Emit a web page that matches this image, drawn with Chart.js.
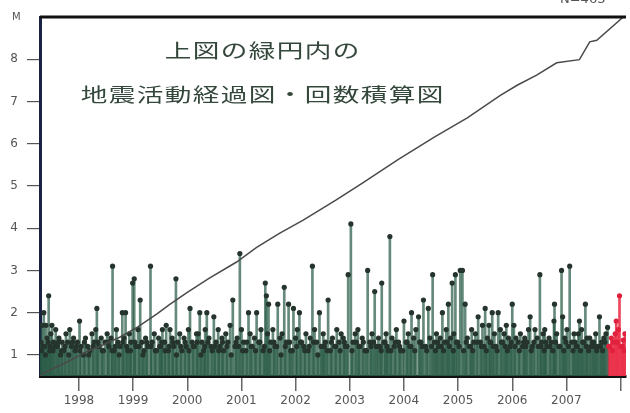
<!DOCTYPE html>
<html>
<head>
<meta charset="utf-8">
<script src="https://cdn.jsdelivr.net/npm/chart.js@4"></script>
<style>
  body { margin: 0; background: #fff; }
  #wrap { position: relative; width: 630px; height: 413px; overflow: hidden; }
  .ttl { position: absolute; left: 0; width: 525px; text-align: center;
         font-family: "Noto Sans CJK JP", sans-serif; font-size: 19px; letter-spacing: 1px;
         color: #34473b; transform: scaleX(1.4); transform-origin: 262px 0; white-space: nowrap; }
  .lbl { position: absolute; font-family: "DejaVu Sans", sans-serif; color: #555; }
</style>
</head>
<body>
<div id="wrap">
  <canvas id="myChart" width="630" height="413"></canvas>
  <div class="ttl" style="top:36px">上図の緑円内の</div>
  <div class="ttl" style="top:80px">地震活動経過図・回数積算図</div>
  <div class="lbl" style="left:12px; top:11px; font-size:10px;">M</div>
  <div class="lbl" style="left:560px; top:-9px; font-size:13px;">N=463</div>
</div>
<script>
// each event: [decimal year, magnitude]
const events1997 = [[1997.80,1.3],[1997.82,1.7],[1997.85,2.0],[1997.87,1.2],[1997.89,1.7],[1997.91,1.4],[1997.94,2.4],[1997.96,1.1],[1997.98,1.5]];
const events1998 = [[1998.00,1.7],[1998.03,1.3],[1998.07,1.6],[1998.10,1.2],[1998.13,1.4],[1998.16,1.0],[1998.19,1.3],[1998.22,1.1],[1998.26,1.5],[1998.29,1.3],[1998.33,1.6],[1998.36,1.2],[1998.40,1.4],[1998.43,1.1],[1998.47,1.3],[1998.51,1.8],[1998.54,1.2],[1998.58,1.0],[1998.62,1.4],[1998.66,1.2],[1998.70,1.1],[1998.74,1.5],[1998.78,1.3],[1998.81,1.6],[1998.83,2.1],[1998.87,1.2],[1998.91,1.4],[1998.95,1.1],[1998.98,1.3]];
const events1999 = [[1999.02,1.5],[1999.05,1.2],[1999.09,1.4],[1999.12,3.1],[1999.15,1.1],[1999.19,1.6],[1999.22,1.3],[1999.26,1.2],[1999.30,2.0],[1999.33,1.4],[1999.36,2.0],[1999.40,1.1],[1999.43,1.5],[1999.46,1.3],[1999.49,2.7],[1999.52,2.8],[1999.55,1.2],[1999.59,1.6],[1999.63,2.3],[1999.66,1.3],[1999.70,1.1],[1999.73,1.4],[1999.77,1.2],[1999.82,3.1],[1999.85,1.3],[1999.89,1.5],[1999.93,1.1],[1999.97,1.4]];
const events2000 = [[2000.01,1.2],[2000.04,1.6],[2000.08,1.3],[2000.11,1.7],[2000.15,1.1],[2000.18,1.6],[2000.22,1.4],[2000.25,1.2],[2000.29,2.8],[2000.32,1.3],[2000.36,1.5],[2000.40,1.1],[2000.44,1.4],[2000.48,1.2],[2000.52,1.6],[2000.55,2.1],[2000.59,1.3],[2000.63,1.2],[2000.67,1.5],[2000.70,1.5],[2000.73,2.0],[2000.77,1.3],[2000.80,1.1],[2000.83,1.6],[2000.86,2.0],[2000.90,1.4],[2000.94,1.2],[2000.99,1.9]];
const events2001 = [[2001.03,1.3],[2001.07,1.6],[2001.10,1.2],[2001.14,1.4],[2001.17,1.1],[2001.21,1.5],[2001.25,1.3],[2001.29,1.7],[2001.34,2.3],[2001.38,1.2],[2001.42,1.4],[2001.47,3.4],[2001.50,1.6],[2001.54,1.3],[2001.58,1.1],[2001.63,2.0],[2001.66,1.5],[2001.70,1.2],[2001.74,1.4],[2001.78,2.0],[2001.82,1.3],[2001.86,1.6],[2001.90,1.1],[2001.94,2.7],[2001.96,2.4],[2001.98,1.5]];
const events2002 = [[2002.00,2.2],[2002.04,1.3],[2002.08,1.6],[2002.12,1.2],[2002.17,2.2],[2002.21,1.4],[2002.25,1.5],[2002.29,2.6],[2002.33,1.3],[2002.37,2.2],[2002.41,1.1],[2002.46,2.1],[2002.50,1.4],[2002.53,1.6],[2002.57,2.0],[2002.61,1.3],[2002.65,1.2],[2002.69,1.5],[2002.73,1.1],[2002.77,1.4],[2002.81,3.1],[2002.85,1.6],[2002.89,1.3],[2002.94,2.0],[2002.97,1.2]];
const events2003 = [[2003.01,1.5],[2003.05,1.3],[2003.10,2.3],[2003.14,1.1],[2003.18,1.4],[2003.22,1.2],[2003.26,1.6],[2003.30,1.3],[2003.34,1.5],[2003.38,1.4],[2003.42,1.2],[2003.47,2.9],[2003.52,4.1],[2003.56,1.3],[2003.60,1.5],[2003.65,1.6],[2003.69,1.2],[2003.73,1.4],[2003.78,1.1],[2003.83,3.0],[2003.87,1.3],[2003.91,1.5],[2003.96,2.5],[2003.99,1.2]];
const events2004 = [[2004.03,1.4],[2004.06,1.2],[2004.09,2.7],[2004.13,1.3],[2004.17,1.5],[2004.21,1.1],[2004.24,3.8],[2004.28,1.4],[2004.32,1.2],[2004.36,1.6],[2004.40,1.3],[2004.44,1.1],[2004.50,1.8],[2004.54,1.3],[2004.58,1.5],[2004.61,1.2],[2004.64,2.0],[2004.68,1.4],[2004.72,1.6],[2004.77,1.9],[2004.81,1.3],[2004.86,2.3],[2004.90,1.2],[2004.95,2.1],[2004.98,1.4]];
const events2005 = [[2005.03,2.9],[2005.06,1.3],[2005.10,1.5],[2005.14,1.2],[2005.17,1.4],[2005.21,2.0],[2005.25,1.3],[2005.28,1.6],[2005.32,2.2],[2005.36,1.4],[2005.39,2.7],[2005.42,1.5],[2005.45,2.9],[2005.49,1.3],[2005.54,3.0],[2005.58,3.0],[2005.63,2.2],[2005.67,1.4],[2005.71,1.2],[2005.75,1.6],[2005.79,1.3],[2005.82,1.5],[2005.87,1.9],[2005.91,1.3],[2005.95,1.7],[2005.98,1.2]];
const events2006 = [[2006.00,2.1],[2006.04,1.4],[2006.07,1.7],[2006.10,1.3],[2006.13,2.0],[2006.17,1.5],[2006.20,1.2],[2006.24,2.0],[2006.28,1.6],[2006.32,1.3],[2006.35,1.5],[2006.39,1.7],[2006.43,1.4],[2006.46,1.2],[2006.50,2.2],[2006.53,1.7],[2006.57,1.4],[2006.61,1.3],[2006.65,1.5],[2006.69,1.2],[2006.73,1.4],[2006.77,1.3],[2006.80,1.6],[2006.83,1.9],[2006.87,1.2],[2006.92,1.6],[2006.96,1.4]];
const events2007 = [[2007.01,2.9],[2007.04,1.3],[2007.07,1.5],[2007.10,1.6],[2007.14,1.2],[2007.18,1.4],[2007.22,1.3],[2007.27,1.8],[2007.28,2.2],[2007.32,1.5],[2007.36,1.2],[2007.41,3.0],[2007.43,1.9],[2007.47,1.4],[2007.51,1.6],[2007.56,3.1],[2007.60,1.3],[2007.64,1.5],[2007.68,1.2],[2007.72,1.5],[2007.74,1.8],[2007.78,1.6],[2007.82,1.3],[2007.85,2.2],[2007.88,1.4],[2007.93,1.4],[2007.96,1.2]];
const events2008 = [[2008.00,1.3],[2008.04,1.5],[2008.08,1.2],[2008.11,1.9],[2008.15,1.3],[2008.19,1.4],[2008.23,1.5],[2008.26,1.65],[2008.30,1.2],[2008.33,1.4],[2008.37,1.3],[2008.40,1.5],[2008.42,1.8],[2008.46,1.6],[2008.48,2.4],[2008.51,1.2],[2008.55,1.35],[2008.58,1.5]];

// the many small events packed near the base
const minor1998 = [[1997.81,1.1],[1997.84,1.2],[1997.88,1.0],[1997.93,1.3],[1997.97,1.2],[1998.02,1.1],[1998.06,1.2],[1998.12,1.3],[1998.18,1.1],[1998.24,1.2],[1998.31,1.0],[1998.38,1.3],[1998.45,1.2],[1998.52,1.1],[1998.60,1.3],[1998.68,1.0],[1998.76,1.2],[1998.85,1.3],[1998.93,1.1]];
const minor2000 = [[1999.04,1.3],[1999.11,1.1],[1999.17,1.2],[1999.24,1.0],[1999.31,1.3],[1999.38,1.2],[1999.45,1.1],[1999.53,1.3],[1999.61,1.2],[1999.68,1.0],[1999.75,1.3],[1999.83,1.2],[1999.91,1.1],[1999.99,1.2],[2000.03,1.3],[2000.09,1.1],[2000.16,1.2],[2000.23,1.3],[2000.30,1.0],[2000.38,1.2],[2000.46,1.3],[2000.53,1.1],[2000.61,1.2],[2000.68,1.3],[2000.75,1.0],[2000.82,1.2],[2000.88,1.3],[2000.96,1.1]];
const minor2002 = [[2001.01,1.2],[2001.08,1.1],[2001.15,1.3],[2001.23,1.2],[2001.31,1.0],[2001.40,1.3],[2001.45,1.2],[2001.52,1.1],[2001.60,1.3],[2001.68,1.2],[2001.76,1.1],[2001.84,1.3],[2001.92,1.2],[2002.02,1.1],[2002.10,1.3],[2002.15,1.2],[2002.23,1.0],[2002.31,1.2],[2002.39,1.3],[2002.44,1.1],[2002.52,1.2],[2002.59,1.3],[2002.67,1.1],[2002.75,1.2],[2002.83,1.3],[2002.91,1.0],[2002.99,1.2]];
const minor2004 = [[2003.03,1.2],[2003.08,1.1],[2003.16,1.3],[2003.24,1.2],[2003.32,1.1],[2003.40,1.3],[2003.45,1.2],[2003.54,1.1],[2003.62,1.3],[2003.67,1.2],[2003.75,1.3],[2003.81,1.1],[2003.89,1.2],[2003.94,1.3],[2004.01,1.2],[2004.08,1.1],[2004.15,1.3],[2004.19,1.2],[2004.26,1.1],[2004.34,1.3],[2004.42,1.2],[2004.48,1.1],[2004.56,1.3],[2004.63,1.2],[2004.70,1.1],[2004.79,1.3],[2004.84,1.2],[2004.92,1.1]];
const minor2006 = [[2005.01,1.2],[2005.08,1.1],[2005.12,1.3],[2005.19,1.2],[2005.23,1.1],[2005.30,1.3],[2005.34,1.2],[2005.41,1.1],[2005.47,1.3],[2005.52,1.2],[2005.60,1.1],[2005.65,1.3],[2005.73,1.2],[2005.77,1.1],[2005.85,1.3],[2005.93,1.2],[2006.02,1.1],[2006.09,1.3],[2006.15,1.2],[2006.22,1.1],[2006.30,1.3],[2006.37,1.2],[2006.41,1.1],[2006.48,1.3],[2006.55,1.2],[2006.63,1.1],[2006.71,1.3],[2006.75,1.2],[2006.85,1.1],[2006.90,1.3],[2006.98,1.2]];
const minor2008 = [[2007.03,1.2],[2007.09,1.1],[2007.12,1.3],[2007.20,1.2],[2007.25,1.1],[2007.30,1.3],[2007.38,1.2],[2007.45,1.1],[2007.49,1.3],[2007.54,1.2],[2007.62,1.1],[2007.66,1.3],[2007.70,1.2],[2007.76,1.1],[2007.80,1.3],[2007.87,1.2],[2007.91,1.1],[2007.98,1.3],[2008.02,1.2],[2008.06,1.1],[2008.13,1.2],[2008.17,1.1],[2008.21,1.3],[2008.28,1.2],[2008.35,1.1],[2008.44,1.3],[2008.53,1.2],[2008.57,1.1]];

// cumulative number of events
const cumYears  = [1997.78,1997.83,1998.28,1998.66,1998.88,1999.25,1999.58,1999.94,2000.17,2000.50,2000.90,2001.41,2001.78,2002.20,2002.64,2003.25,2003.74,2004.39,2005.06,2005.67,2006.28,2006.59,2006.95,2007.32,2007.74,2007.93,2008.06,2008.55];
const cumCounts = [0,3,18,32,38,50,63,80,92,108,126,147,166,184,201,227,249,279,308,333,362,375,388,404,408,431,433,463];

const yearTicks = [1998,1999,2000,2001,2002,2003,2004,2005,2006,2007,2008];
const magTicks = [1,2,3,4,5,6,7,8];
const totalCount = 463;
const recentFrom = 2008.27;

const events = [].concat(minor1998, minor2000, minor2002, minor2004, minor2006, minor2008,
  events1997, events1998, events1999, events2000, events2001, events2002,
  events2003, events2004, events2005, events2006, events2007, events2008);
const BASE = 0.5;
const colorOf = t => t >= recentFrom ? 'rgba(235,50,75,0.9)' : 'rgba(42,92,70,0.72)';
const dotOf = t => t >= recentFrom ? '#e0203c' : '#25352d';

const frame = {
  id: 'frame',
  afterDraw(chart) {
    const { ctx, chartArea: a } = chart;
    ctx.save();
    ctx.strokeStyle = '#111';
    ctx.lineWidth = 3;
    ctx.beginPath();
    ctx.moveTo(a.left, a.top);
    ctx.lineTo(a.right, a.top);
    ctx.stroke();
    ctx.restore();
  }
};

const ctx = document.getElementById('myChart').getContext('2d');
const myChart = new Chart(ctx, {
  type: 'bar',
  data: {
    datasets: [{
      type: 'line',
      data: cumYears.map((t, i) => ({ x: t, y: cumCounts[i] })),
      yAxisID: 'yc',
      borderColor: '#4a4a4a',
      borderWidth: 1.5,
      pointRadius: 0,
      tension: 0,
      order: 0
    }, {
      type: 'scatter',
      data: events.map(e => ({ x: e[0], y: e[1] })),
      pointRadius: 2.6,
      pointBackgroundColor: events.map(e => dotOf(e[0])),
      pointBorderWidth: 0,
      order: 1
    }, {
      type: 'bar',
      data: events.map(e => ({ x: e[0], y: [BASE, e[1]] })),
      backgroundColor: events.map(e => colorOf(e[0])),
      barThickness: 2,
      grouped: false,
      order: 2
    }]
  },
  options: {
    responsive: false,
    animation: false,
    layout: { padding: { top: 17, right: 0, left: 0, bottom: 0 } },
    plugins: { legend: { display: false }, tooltip: { enabled: false } },
    scales: {
      x: {
        type: 'linear',
        min: 1997.78,
        max: 2008.6,
        offset: false,
        afterBuildTicks: s => { s.ticks = yearTicks.map(v => ({ value: v })); },
        afterFit: s => { s.height = 37; },
        ticks: {
          autoSkip: false, maxRotation: 0, labelOffset: 27, padding: 3,
          color: '#555', font: { family: 'DejaVu Sans', size: 12 },
          callback: v => v < 2008 ? String(v) : ''
        },
        grid: { drawOnChartArea: false, tickLength: 15, color: '#666', lineWidth: 1.5 },
        border: { color: '#111', width: 3 }
      },
      y: {
        min: BASE,
        max: 9,
        afterBuildTicks: s => { s.ticks = magTicks.map(v => ({ value: v })); },
        afterFit: s => { s.width = 40; },
        ticks: { color: '#555', padding: 9, font: { family: 'DejaVu Sans', size: 12 } },
        grid: { drawOnChartArea: false, tickLength: 13, color: '#555', lineWidth: 1.2 },
        border: { color: '#1b2344', width: 3 }
      },
      yc: {
        display: false,
        min: 0,
        max: totalCount
      }
    }
  },
  plugins: [frame]
});
</script>
</body>
</html>
